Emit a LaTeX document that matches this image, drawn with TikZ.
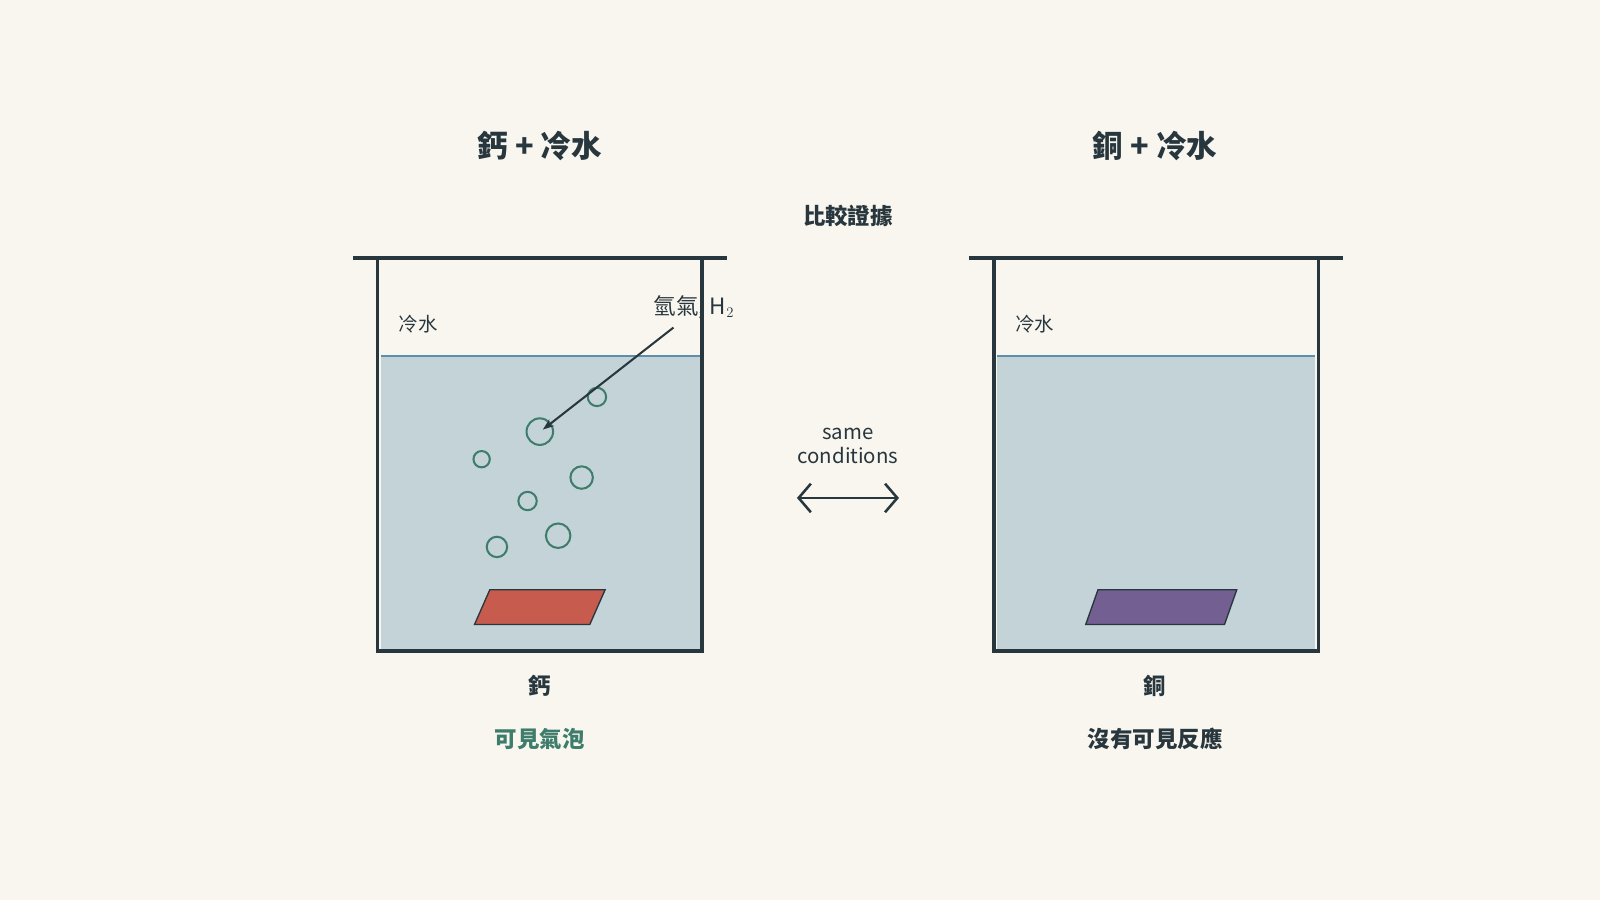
\documentclass[tikz,border=0pt]{standalone}
\usepackage{fontspec}
\setmainfont{Noto Sans CJK TC}
\usetikzlibrary{arrows.meta}
\definecolor{bg}{HTML}{F9F6F0}
\definecolor{ink}{HTML}{28363D}
\definecolor{water}{HTML}{C3D3D8}
\definecolor{wline}{HTML}{5E8FAA}
\definecolor{bub}{HTML}{3E7D6B}
\definecolor{ca}{HTML}{C65B4E}
\definecolor{cu}{HTML}{735F92}
\begin{document}
\begin{tikzpicture}[x=1pt,y=-1pt,
  wall/.style={ink,line width=3.5pt},
  bubble/.style={bub,line width=2pt},
  ttl/.style={font=\fontsize{30}{36}\selectfont\bfseries,text=ink},
  lbl/.style={font=\fontsize{22}{26}\selectfont\bfseries,text=ink},
  small/.style={font=\fontsize{19}{22}\selectfont,text=ink}]
\fill[bg] (0,0) rectangle (1568,882);
\useasboundingbox (0,0) rectangle (1568,882);
\node[ttl] (t1) at (529,143) {鈣 + 冷水};
\node[ttl] (t2) at (1132,143) {銅 + 冷水};
\node[lbl] (cmp) at (831,212) {比較證據};
% left beaker
\fill[water] (373,349) rectangle (686,636);
\draw[wline,line width=2pt] (373,349) -- (686,349);
\draw[wall] (346,253) -- (712,253);
\draw[wall] (370,253) -- (370,638) -- (688,638) -- (688,253);
\node[small] (cw1) at (410,318) {冷水};
\draw[ink,line width=1.3pt,fill=ca] (465,612) -- (480,578) -- (593,578) -- (578,612) -- cycle;
\foreach \x/\y/\r in {585/389/9,529/423/13,472/450/8,570/468/11,517/491/9,547/525/12,487/536/10}
  \draw[bubble] (\x,\y) circle (\r);
\node[small,font=\fontsize{22}{26}\selectfont] (h2) at (680,301) {氫氣, H$_2$};
\coordinate (bb) at (532,421);
\draw[ink,line width=2pt,-{Stealth[length=11pt,width=8pt]}] (660,321) -- (bb);
\node[lbl] (m1) at (529,672) {鈣};
\node[lbl,text=bub] (r1) at (529,724) {可見氣泡};
% right beaker
\fill[water] (977,349) rectangle (1289,636);
\draw[wline,line width=2pt] (977,349) -- (1289,349);
\draw[wall] (950,253) -- (1316,253);
\draw[wall] (974,253) -- (974,638) -- (1292,638) -- (1292,253);
\node[small] (cw2) at (1014,318) {冷水};
\draw[ink,line width=1.3pt,fill=cu] (1064,612) -- (1076,578) -- (1212,578) -- (1200,612) -- cycle;
\node[lbl] (m2) at (1132,672) {銅};
\node[lbl] (r2) at (1132,724) {沒有可見反應};
% middle
\node[small,font=\fontsize{20}{23}\selectfont,align=center] (sc) at (831,437) {same\\conditions};
\coordinate (aL) at (781,488);
\coordinate (aR) at (881,488);
\draw[ink,line width=2.5pt,{Straight Barb[length=12pt,width=28pt]}-{Straight Barb[length=12pt,width=28pt]}] (aL) -- (aR);
\end{tikzpicture}
\end{document}
